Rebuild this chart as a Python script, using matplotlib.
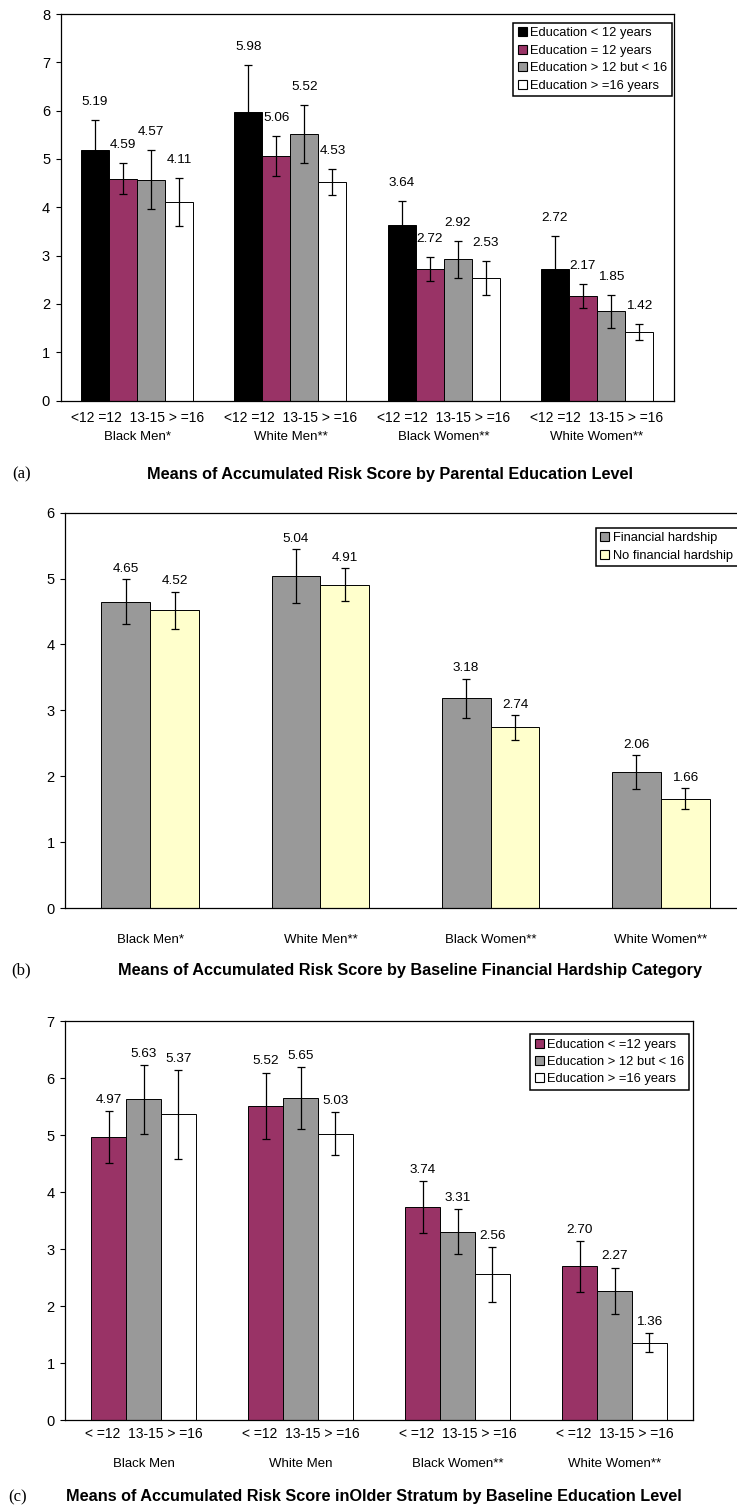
import matplotlib
matplotlib.use("Agg")
import matplotlib.pyplot as plt
from matplotlib.patches import Patch

plt.rcParams['font.family'] = ['Liberation Sans', 'DejaVu Sans']

# ---------------- data ----------------
groups_a = ["Black Men*", "White Men**", "Black Women**", "White Women**"]
sub_a = "<12 =12  13-15 > =16"
series_a = ["Education < 12 years", "Education = 12 years",
            "Education > 12 but < 16", "Education > =16 years"]
lt12_a = [5.19, 5.98, 3.64, 2.72]
eq12_a = [4.59, 5.06, 2.72, 2.17]
mid_a = [4.57, 5.52, 2.92, 1.85]
ge16_a = [4.11, 4.53, 2.53, 1.42]
lt12_err_a = [0.61, 0.96, 0.48, 0.68]
eq12_err_a = [0.32, 0.42, 0.24, 0.25]
mid_err_a = [0.61, 0.60, 0.39, 0.34]
ge16_err_a = [0.50, 0.27, 0.35, 0.17]
title_a = "Means of Accumulated Risk Score by Parental Education Level"

groups_b = ["Black Men*", "White Men**", "Black Women**", "White Women**"]
series_b = ["Financial hardship", "No financial hardship"]
hard_b = [4.65, 5.04, 3.18, 2.06]
nohard_b = [4.52, 4.91, 2.74, 1.66]
hard_err_b = [0.34, 0.41, 0.30, 0.26]
nohard_err_b = [0.28, 0.25, 0.19, 0.16]
title_b = "Means of Accumulated Risk Score by Baseline Financial Hardship Category"

groups_c = ["Black Men", "White Men", "Black Women**", "White Women**"]
sub_c = "< =12  13-15 > =16"
series_c = ["Education < =12 years", "Education > 12 but < 16", "Education > =16 years"]
le12_c = [4.97, 5.52, 3.74, 2.70]
mid_c = [5.63, 5.65, 3.31, 2.27]
ge16_c = [5.37, 5.03, 2.56, 1.36]
le12_err_c = [0.46, 0.58, 0.45, 0.45]
mid_err_c = [0.60, 0.54, 0.39, 0.41]
ge16_err_c = [0.78, 0.38, 0.48, 0.17]
title_c = "Means of Accumulated Risk Score inOlder Stratum by Baseline Education Level"

BLACK = "#000000"
MAROON = "#993366"
GRAY = "#999999"
WHITE = "#FFFFFF"
YELLOW = "#FFFFCC"

W, H = 737, 1509
fig = plt.figure(figsize=(W / 100, H / 100), dpi=100)


def px_axes(left, top, right, bottom):
    return fig.add_axes([left / W, 1 - bottom / H, (right - left) / W, (bottom - top) / H])


def draw(ax, values, errs, colors, total, lab_off, ymax):
    n = len(values)
    w = total / n
    for i, (vals, er, col) in enumerate(zip(values, errs, colors)):
        xs = [g - total / 2 + w * (i + 0.5) for g in range(len(vals))]
        ax.bar(xs, vals, width=w, color=col, edgecolor="black", linewidth=0.7, zorder=2)
        ax.errorbar(xs, vals, yerr=er, fmt="none", ecolor="black", elinewidth=0.9,
                    capsize=2.6, capthick=0.9, zorder=3)
        for x, v, e in zip(xs, vals, er):
            ax.annotate(f"{v:.2f}", xy=(x, v + e), xytext=(0, lab_off),
                        textcoords="offset points", ha="center", va="center",
                        fontsize=9.7, zorder=4)
    ax.set_xlim(-0.5, len(values[0]) - 0.5)
    ax.set_ylim(0, ymax)
    ax.set_yticks(range(0, ymax + 1))
    ax.tick_params(axis="y", direction="out", length=3.5, width=0.8, labelsize=10.5, pad=4)
    ax.tick_params(axis="x", length=0)
    ax.set_xticks([])
    for s in ax.spines.values():
        s.set_linewidth(0.9)
        s.set_color("black")


def legend(ax, labels, colors, x, y):
    handles = [Patch(facecolor=c, edgecolor="black", linewidth=0.8) for c in colors]
    leg = ax.legend(handles, labels, loc="upper left", bbox_to_anchor=(x / W, 1 - y / H),
                    bbox_transform=fig.transFigure, fontsize=9.3, handlelength=0.7,
                    handleheight=0.7, handletextpad=0.3, borderpad=0.35, labelspacing=0.42,
                    fancybox=False, framealpha=1, edgecolor="black", borderaxespad=0)
    leg.get_frame().set_linewidth(1.1)


def group_text(ax, labels, off_px, size=9.5):
    for g, lab in enumerate(labels):
        ax.annotate(lab, xy=(g, 0), xycoords=("data", "axes fraction"),
                    xytext=(0, -off_px * 0.72), textcoords="offset points",
                    ha="center", va="center", fontsize=size)


def caption(tag, title, ytag, xtag, xtitle):
    fig.text(xtag / W, 1 - ytag / H, tag, ha="center", va="center", fontsize=12,
             family=["Liberation Serif", "DejaVu Serif"])
    fig.text(xtitle / W, 1 - ytag / H, title, ha="center", va="center", fontsize=11.7,
             fontweight="bold")


# ---------------- panel (a) ----------------
ax_a = px_axes(60.5, 14, 673.5, 400.5)
draw(ax_a, [lt12_a, eq12_a, mid_a, ge16_a],
     [lt12_err_a, eq12_err_a, mid_err_a, ge16_err_a],
     [BLACK, MAROON, GRAY, WHITE], 0.732, 13, 8)
group_text(ax_a, [sub_a] * 4, 17.5, size=10)
group_text(ax_a, groups_a, 36.5)
legend(ax_a, series_a, [BLACK, MAROON, GRAY, WHITE], 513, 22.7)
caption("(a)", title_a, 474.3, 22, 389.8)

# ---------------- panel (b) ----------------
ax_b = px_axes(65, 512.7, 746, 908)
draw(ax_b, [hard_b, nohard_b], [hard_err_b, nohard_err_b],
     [GRAY, YELLOW], 0.574, 7.5, 6)
ax_b.spines["right"].set_visible(False)
group_text(ax_b, groups_b, 32)
legend(ax_b, series_b, [GRAY, YELLOW], 595.7, 527.7)
caption("(b)", title_b, 970.3, 21, 410)

# ---------------- panel (c) ----------------
ax_c = px_axes(65, 1021.3, 693, 1420.3)
draw(ax_c, [le12_c, mid_c, ge16_c], [le12_err_c, mid_err_c, ge16_err_c],
     [MAROON, GRAY, WHITE], 0.666, 8, 7)
group_text(ax_c, [sub_c] * 4, 14, size=10)
group_text(ax_c, groups_c, 44)
legend(ax_c, series_c, [MAROON, GRAY, WHITE], 530, 1034)
caption("(c)", title_c, 1497, 18, 374)

fig.savefig("out.png", dpi=100)
